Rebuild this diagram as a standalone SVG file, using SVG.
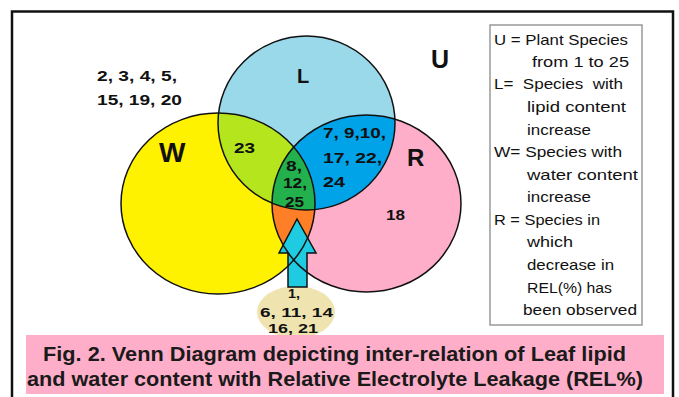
<svg xmlns="http://www.w3.org/2000/svg" width="679" height="397" viewBox="0 0 679 397">
<style>
.num{font-family:"Liberation Sans",Arial,sans-serif;font-weight:bold;font-size:15px;fill:#111}
.sm{font-size:13.5px}
.big{font-family:"Liberation Sans",Arial,sans-serif;font-weight:bold;fill:#111}
.leg{font-family:"Liberation Sans",Arial,sans-serif;font-size:15px;fill:#111}
.cap{font-family:"Liberation Sans",Arial,sans-serif;font-weight:bold;font-size:21px;fill:#1a1a1a}
.ol{fill:none;stroke:#111;stroke-width:1.5}
</style>
<defs>
<ellipse id="eW" cx="218" cy="203.5" rx="97" ry="90.5"/>
<ellipse id="eL" cx="306.5" cy="123" rx="88.5" ry="87"/>
<ellipse id="eR" cx="366.5" cy="203.5" rx="94.5" ry="88.5"/>
<clipPath id="cW"><use href="#eW"/></clipPath>
<clipPath id="cL"><use href="#eL"/></clipPath>
<clipPath id="cR"><use href="#eR"/></clipPath>
</defs>
<rect x="0" y="0" width="679" height="397" fill="#fff"/>
<rect x="12" y="11.5" width="661" height="400" fill="none" stroke="#111" stroke-width="2.5"/>

<g id="beige">
<ellipse cx="296" cy="312" rx="39" ry="26" fill="#efe4b0"/>
</g>

<g id="venn">
<use href="#eW" fill="#fff200"/>
<use href="#eR" fill="#ffaec9"/>
<use href="#eL" fill="#99d9ea"/>
<use href="#eL" fill="#b5e61d" clip-path="url(#cW)"/>
<use href="#eL" fill="#00a2e8" clip-path="url(#cR)"/>
<use href="#eW" fill="#ff7f27" clip-path="url(#cR)"/>
<g clip-path="url(#cL)"><use href="#eW" fill="#22b14c" clip-path="url(#cR)"/></g>
</g>

<g id="arrow">
<polygon points="297,219 316,253 307,253 307,287 288,287 288,253 279,253" fill="#1ecbe1" stroke="#111" stroke-width="1.5" stroke-linejoin="miter"/>
</g>

<g id="outlines">
<use href="#eW" class="ol"/>
<use href="#eR" class="ol"/>
<use href="#eL" class="ol"/>
</g>

<g id="set-labels">
<text class="big" x="297" y="83" font-size="20">L</text>
<text class="big" x="431" y="68" font-size="25">U</text>
<text class="big" x="159" y="162" font-size="28">W</text>
<text class="big" x="407" y="166" font-size="24">R</text>
</g>

<g id="region-labels">
<text class="num" x="97" y="81" textLength="80" lengthAdjust="spacingAndGlyphs">2, 3, 4, 5,</text>
<text class="num" x="97" y="105" textLength="85" lengthAdjust="spacingAndGlyphs">15, 19, 20</text>
<text class="num" x="234" y="153" textLength="21" lengthAdjust="spacingAndGlyphs">23</text>
<text class="num" x="323" y="138" textLength="63" lengthAdjust="spacingAndGlyphs">7, 9,10,</text>
<text class="num" x="323" y="163" textLength="59" lengthAdjust="spacingAndGlyphs">17, 22,</text>
<text class="num" x="323" y="187" textLength="22" lengthAdjust="spacingAndGlyphs">24</text>
<text class="num" x="286" y="171" textLength="16" lengthAdjust="spacingAndGlyphs">8,</text>
<text class="num" x="283" y="188" textLength="24" lengthAdjust="spacingAndGlyphs">12,</text>
<text class="num" x="285" y="207" textLength="19" lengthAdjust="spacingAndGlyphs">25</text>
<text class="num" x="386" y="220" textLength="19" lengthAdjust="spacingAndGlyphs">18</text>
<text class="num sm" x="288" y="298" textLength="12" lengthAdjust="spacingAndGlyphs">1,</text>
<text class="num sm" x="260" y="317" textLength="73" lengthAdjust="spacingAndGlyphs">6, 11, 14</text>
<text class="num sm" x="268" y="333" textLength="50" lengthAdjust="spacingAndGlyphs">16, 21</text>
</g>

<g id="legend">
<rect x="490" y="25" width="152" height="300" fill="#fff" stroke="#999" stroke-width="1.5"/>
<text class="leg" x="494" y="45" textLength="134" lengthAdjust="spacingAndGlyphs">U = Plant Species</text>
<text class="leg" x="532" y="67" textLength="97" lengthAdjust="spacingAndGlyphs">from 1 to 25</text>
<text class="leg" x="494" y="89" textLength="129" lengthAdjust="spacingAndGlyphs" xml:space="preserve">L=  Species  with</text>
<text class="leg" x="527" y="112" textLength="99" lengthAdjust="spacingAndGlyphs">lipid content</text>
<text class="leg" x="527" y="135" textLength="64" lengthAdjust="spacingAndGlyphs">increase</text>
<text class="leg" x="494" y="157" textLength="128" lengthAdjust="spacingAndGlyphs">W= Species with</text>
<text class="leg" x="527" y="180" textLength="111" lengthAdjust="spacingAndGlyphs">water content</text>
<text class="leg" x="527" y="202" textLength="64" lengthAdjust="spacingAndGlyphs">increase</text>
<text class="leg" x="494" y="225" textLength="106" lengthAdjust="spacingAndGlyphs">R = Species in</text>
<text class="leg" x="527" y="247" textLength="46" lengthAdjust="spacingAndGlyphs">which</text>
<text class="leg" x="527" y="270" textLength="87" lengthAdjust="spacingAndGlyphs">decrease in</text>
<text class="leg" x="527" y="293" textLength="85" lengthAdjust="spacingAndGlyphs">REL(%) has</text>
<text class="leg" x="523" y="315" textLength="114" lengthAdjust="spacingAndGlyphs">been observed</text>
</g>

<g id="caption">
<rect x="26" y="335" width="638" height="59" fill="#ffaec9"/>
<text class="cap" x="43" y="361" textLength="583" lengthAdjust="spacingAndGlyphs">Fig. 2. Venn Diagram depicting inter-relation of Leaf lipid</text>
<text class="cap" x="27" y="386" textLength="616" lengthAdjust="spacingAndGlyphs">and water content with Relative Electrolyte Leakage (REL%)</text>
</g>
</svg>
